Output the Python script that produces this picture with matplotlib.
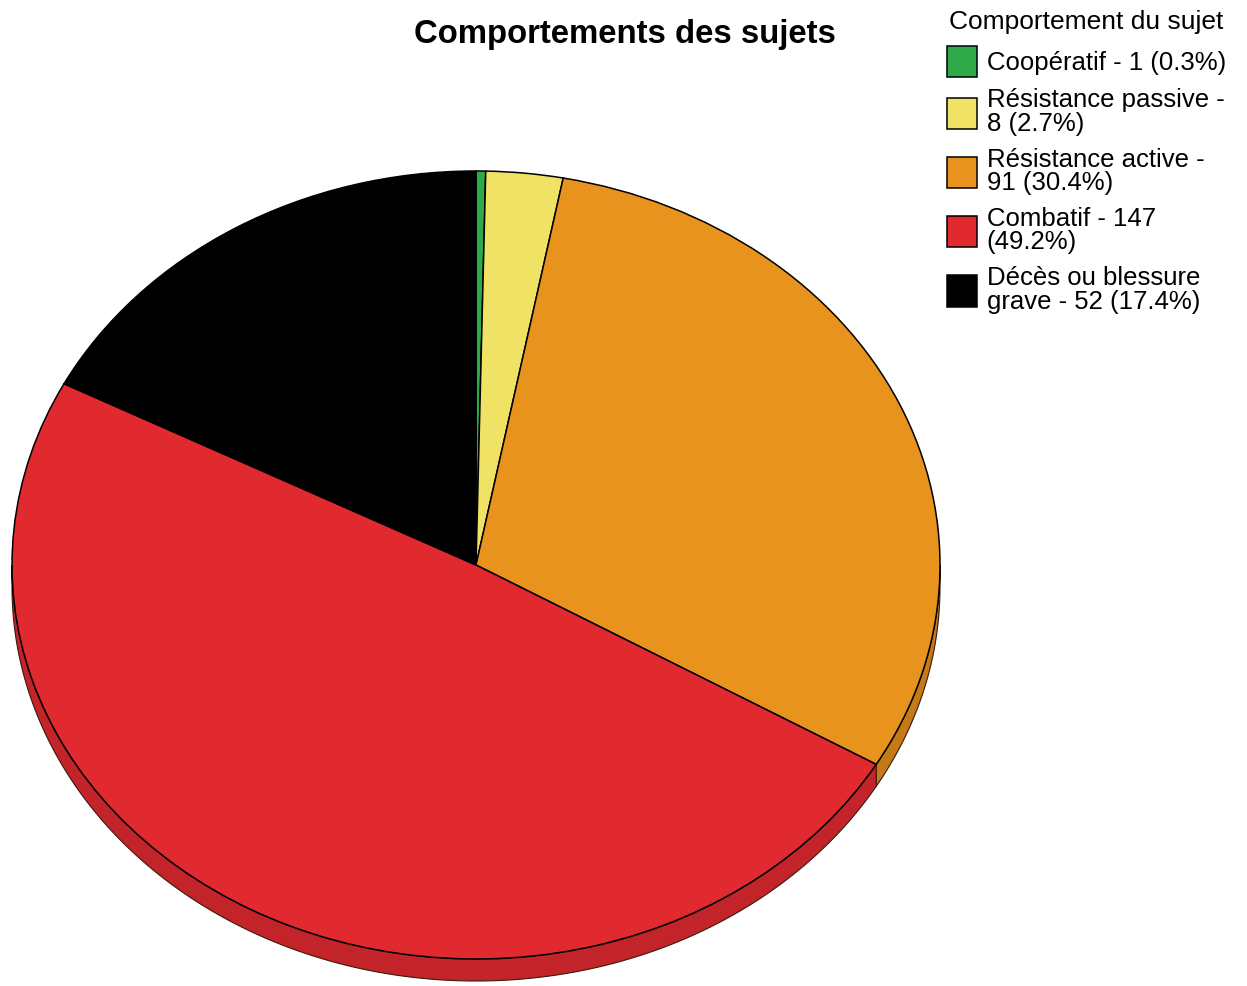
import matplotlib.pyplot as plt
import numpy as np
from matplotlib.patches import Polygon

plt.rcParams['font.family'] = ['Liberation Sans', 'DejaVu Sans']

TITLE = "Comportements des sujets"
LEGEND_TITLE = "Comportement du sujet"
labels = ["Coopératif - 1 (0.3%)",
          "Résistance passive -\n8 (2.7%)",
          "Résistance active -\n91 (30.4%)",
          "Combatif - 147\n(49.2%)",
          "Décès ou blessure\ngrave - 52 (17.4%)"]
counts = [1, 8, 91, 147, 52]
colors = ["#2EAA4A", "#F0E264", "#E8931E", "#E02A30", "#000000"]
side_colors = ["#23853A", "#C4B64E", "#C47A16", "#C2242A", "#000000"]

W, H = 1247, 986
CX, CY = 476, 565      # pie centre in px (from top-left)
RX, RY = 464, 394      # ellipse radii in px
DEPTH = 22             # thickness of the tilted pie in px

fig = plt.figure(figsize=(W / 100, H / 100), dpi=100)

# axes laid out so the unit circle becomes the tilted ellipse
ax_w, ax_top = 960, 165
ax = fig.add_axes([0, 0, ax_w / W, (H - ax_top) / H])
wedges, _ = ax.pie(counts, colors=colors, startangle=90, counterclock=False,
                   wedgeprops=dict(edgecolor="black", linewidth=1.1))
ax.set_aspect("auto")
ax.set_xlim(-CX / RX, (ax_w - CX) / RX)
ax.set_ylim(-(H - CY) / RY, (CY - ax_top) / RY)

# side walls of the pie (only the front half is visible)
d = DEPTH / RY
for w, sc in zip(wedges, side_colors):
    for k in (-360, 0, 360):
        a = max(w.theta1, 180 + k)
        b = min(w.theta2, 360 + k)
        if b > a:
            t = np.radians(np.linspace(a, b, 200))
            xs, ys = np.cos(t), np.sin(t)
            pts = np.column_stack([np.r_[xs, xs[::-1]], np.r_[ys, ys[::-1] - d]])
            ax.add_patch(Polygon(pts, closed=True, facecolor=sc,
                                 edgecolor="#3a1a0a", linewidth=0.8, zorder=0.5))

leg = ax.legend(wedges, labels, title=LEGEND_TITLE, loc="upper left",
                bbox_to_anchor=(947 / W, 1 - 10 / H), bbox_transform=fig.transFigure,
                frameon=False, fontsize=18.5, title_fontsize=19,
                handlelength=1.15, handleheight=1.5, handletextpad=0.4,
                labelspacing=0.45, borderpad=0, borderaxespad=0)
for t in leg.get_texts():
    t.set_linespacing(0.98)

fig.text(625 / W, 1 - 34 / H, TITLE, ha="center", va="center",
         fontsize=23.7, fontweight="bold")

fig.savefig("out.png", dpi=100)
